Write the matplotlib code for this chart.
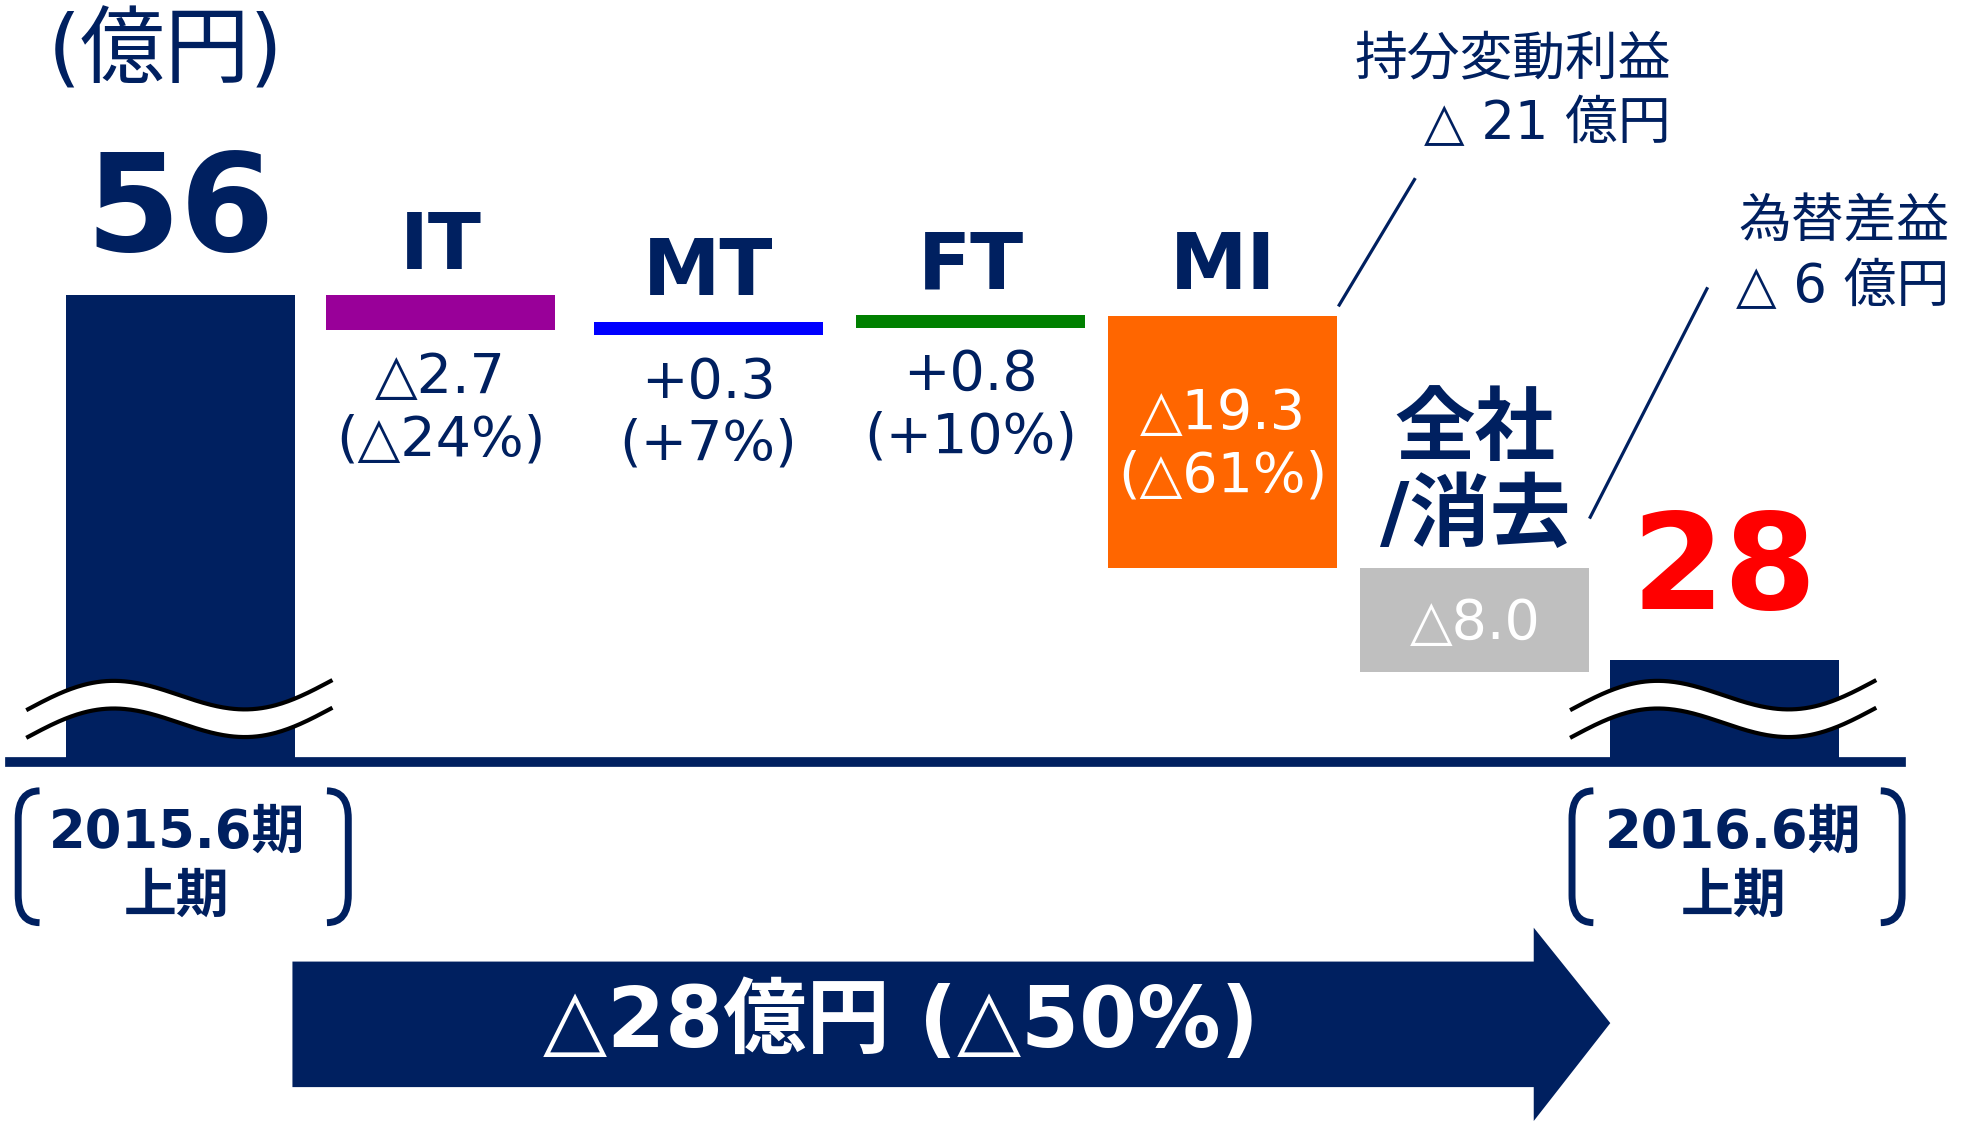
import numpy as np
import matplotlib
matplotlib.use('Agg')
import matplotlib.pyplot as plt
from matplotlib.patches import Polygon, PathPatch
from matplotlib.path import Path
from matplotlib.lines import Line2D

plt.rcParams['font.family'] = ['DejaVu Sans', 'Noto Sans CJK JP']

NAVY = '#002060'

# data
start_label = '2015.6期\n上期'
end_label = '2016.6期\n上期'
start_value = 56
end_value = 28
segments = ['IT', 'MT', 'FT', 'MI', '全社\n/消去']
deltas = [-2.7, 0.3, 0.8, -19.3, -8.0]
delta_text = ['△2.7', '+0.3', '+0.8', '△19.3', '△8.0']
pct_text = ['(△24%)', '(+7%)', '(+10%)', '(△61%)', '']
seg_colors = ['#990099', '#0000FF', '#008000', '#FF6600', '#BFBFBF']
total_change = '△28億円 (△50%)'
unit_text = '(億円)'
note_mi = '持分変動利益\n△ 21 億円'
note_other = '為替差益\n△ 6 億円'

# layout: bar centres (slot units) and reference pixel grid
xpos = [0, 1.01, 2.05, 3.07, 4.05, 5.03, 6.0]
W, H = 1568, 893


def fx(x):
    return x / W


def fy(y):
    return 1 - y / H


fig = plt.figure(figsize=(19.68, 11.21), dpi=100)
fig.patch.set_facecolor('white')

ax = fig.add_axes([fx(8), fy(607), fx(1515) - fx(8), fy(235) - fy(607)])
ymin = 20.2
ax.set_xlim(-0.663, 6.688)
ax.set_ylim(ymin, 56)
ax.axis('off')

bw = 0.89
n = len(segments)

# start / end bars (broken axis)
ax.bar(xpos[0], start_value - ymin, bottom=ymin, width=bw, color=NAVY, clip_on=False)
ax.bar(xpos[-1], end_value - ymin, bottom=ymin, width=bw, color=NAVY, clip_on=False)
ax.annotate(str(start_value), xy=(xpos[0], start_value), xytext=(0, 32), textcoords='offset points',
            ha='center', va='baseline', fontsize=98, fontweight='bold', color=NAVY)
ax.annotate(str(end_value), xy=(xpos[-1], end_value), xytext=(0, 37), textcoords='offset points',
            ha='center', va='baseline', fontsize=96, fontweight='bold', color='#FF0000')

# waterfall steps
level = start_value
for i, d in enumerate(deltas):
    x = xpos[i + 1]
    lo, hi = min(level, level + d), max(level, level + d)
    if hi - lo < 1.0:
        mid = (lo + hi) / 2
        lo, hi = mid - 0.5, mid + 0.5
    ax.bar(x, hi - lo, bottom=lo, width=bw, color=seg_colors[i], clip_on=False)
    level += d
    if abs(d) > 5:
        txt = delta_text[i] + ('\n' + pct_text[i] if pct_text[i] else '')
        ax.text(x, (lo + hi) / 2 - 0.3, txt, ha='center', va='center', color='white',
                fontsize=40, linespacing=1.2)
    else:
        ax.annotate(delta_text[i], xy=(x, lo), xytext=(0, -45), textcoords='offset points',
                    ha='center', va='baseline', fontsize=40, color=NAVY)
        ax.annotate(pct_text[i], xy=(x, lo), xytext=(0, -90), textcoords='offset points',
                    ha='center', va='baseline', fontsize=40, color=NAVY)
    if '\n' in segments[i]:
        ax.annotate(segments[i], xy=(x, hi), xytext=(0, 8), textcoords='offset points',
                    ha='center', va='bottom', fontsize=58, fontweight='bold', color=NAVY,
                    linespacing=1.12)
    else:
        ax.annotate(segments[i], xy=(x, hi), xytext=(0, 19), textcoords='offset points',
                    ha='center', va='baseline', fontsize=56, fontweight='bold', color=NAVY)

# baseline
ax.axhline(ymin, color=NAVY, lw=7, clip_on=False, zorder=5)


# break marks
def wave(xc):
    t = np.linspace(0, 1, 200)
    xs = xc - 0.6 + 1.19 * t
    up = 24.17 + 1.63 * np.sin(2 * np.pi * t) + 2.31 * t
    dn = up - 2.12
    ax.fill_between(xs, dn, up, color='white', zorder=6, clip_on=False, lw=0)
    ax.plot(xs, up, color='black', lw=3, zorder=7, clip_on=False, solid_capstyle='butt')
    ax.plot(xs, dn, color='black', lw=3, zorder=7, clip_on=False, solid_capstyle='butt')


wave(xpos[0])
wave(xpos[-1])

# unit
fig.text(fx(132), fy(42), unit_text, ha='center', va='center', fontsize=61, color=NAVY)


# period brackets
def bracket(x_edge, x_tip, y0, y1, r=22):
    verts = [(x_tip, y0), (x_edge, y0), (x_edge, y0 + r), (x_edge, y1 - r), (x_edge, y1), (x_tip, y1)]
    codes = [Path.MOVETO, Path.CURVE3, Path.CURVE3, Path.LINETO, Path.CURVE3, Path.CURVE3]
    p = Path([(fx(a), fy(b)) for a, b in verts], codes)
    fig.patches.append(PathPatch(p, transform=fig.transFigure, fill=False, ec=NAVY, lw=5,
                                 capstyle='butt'))


for left, right, cx, lab in [(14.5, 277.5, 141, start_label), (1252.5, 1515.5, 1381, end_label)]:
    bracket(left, left + 17, 630, 735)
    bracket(right, right - 17, 630, 735)
    fig.text(fx(cx), fy(689), lab, ha='center', va='center', fontsize=38, fontweight='bold',
             color=NAVY, linespacing=1.3)

# notes with leader lines
fig.text(fx(1331), fy(27), note_mi, ha='right', va='top', fontsize=38, color=NAVY,
         linespacing=1.3, multialignment='right')
fig.text(fx(1553), fy(157), note_other, ha='right', va='top', fontsize=38, color=NAVY,
         linespacing=1.3, multialignment='right')
fig.lines.append(Line2D([fx(1067), fx(1127)], [fy(243), fy(143)], color=NAVY, lw=2.3,
                        transform=fig.transFigure))
fig.lines.append(Line2D([fx(1267), fx(1360)], [fy(412), fy(230)], color=NAVY, lw=2.3,
                        transform=fig.transFigure))

# total change arrow
arrow = [(233, 766), (1222, 766), (1222, 739), (1283, 815), (1222, 893), (1222, 866), (233, 866)]
fig.patches.append(Polygon([(fx(a), fy(b)) for a, b in arrow], closed=True, fc=NAVY, ec='none',
                           transform=fig.transFigure))
fig.text(fx(718), fy(815), total_change, ha='center', va='center', fontsize=60,
         fontweight='bold', color='white')

fig.savefig('out.png', dpi=100, facecolor='white')
